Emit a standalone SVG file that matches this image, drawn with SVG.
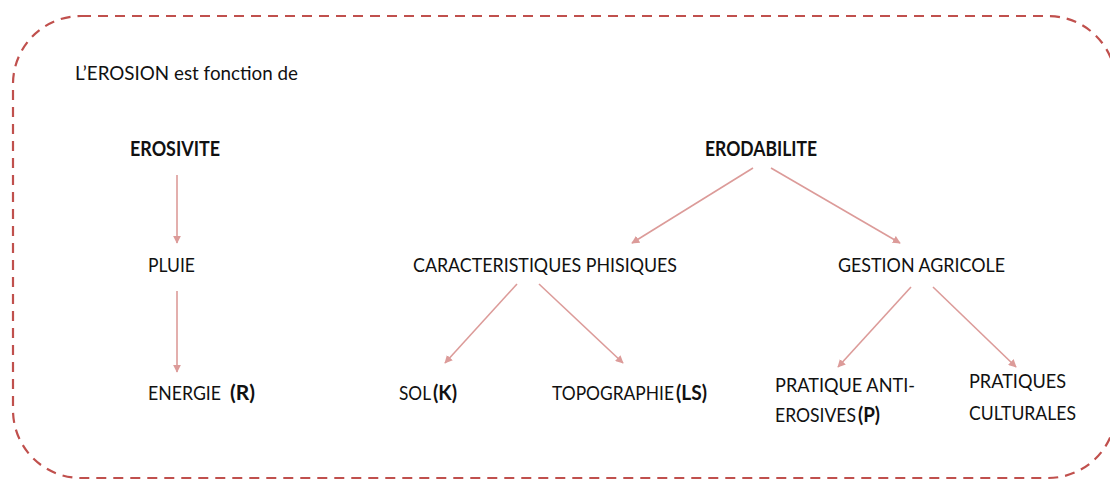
<svg xmlns="http://www.w3.org/2000/svg" width="1110" height="482" viewBox="0 0 1110 482">
  <defs>
    <marker id="arrow" viewBox="0 0 10 10" refX="9" refY="5" markerWidth="8" markerHeight="8" markerUnits="userSpaceOnUse" orient="auto">
      <path d="M0,0 L10,5 L0,10 Z" fill="#DC9B99"/>
    </marker>
    <style>
      .frame { fill: none; stroke: #C0504D; stroke-width: 2.2; stroke-dasharray: 10 7; }
      .link { stroke: #DC9B99; stroke-width: 1.6; fill: none; marker-end: url(#arrow); }
      text { font-family: Lato, "Liberation Sans", sans-serif; font-size: 20px; fill: #111; }
      .b { font-weight: bold; }
    </style>
  </defs>

  <rect class="frame" x="13" y="16" width="1103" height="462" rx="68" ry="68"/>

  <g id="title"><text x="75" y="80" textLength="223" lengthAdjust="spacingAndGlyphs">L’EROSION est fonction de</text></g>

  <g id="erosivite"><text class="b" x="130" y="156" textLength="90" lengthAdjust="spacingAndGlyphs">EROSIVITE</text></g>
  <g id="pluie"><text x="148" y="272" textLength="47" lengthAdjust="spacingAndGlyphs">PLUIE</text></g>
  <g id="energie">
    <text x="148" y="400" textLength="73" lengthAdjust="spacingAndGlyphs">ENERGIE</text>
    <text class="b" x="230" y="400" textLength="25" lengthAdjust="spacingAndGlyphs">(R)</text>
  </g>

  <g id="erodabilite"><text class="b" x="705" y="156" textLength="112" lengthAdjust="spacingAndGlyphs">ERODABILITE</text></g>
  <g id="caracteristiques"><text x="413" y="272" textLength="264" lengthAdjust="spacingAndGlyphs">CARACTERISTIQUES PHISIQUES</text></g>
  <g id="gestion"><text x="838" y="272" textLength="167" lengthAdjust="spacingAndGlyphs">GESTION AGRICOLE</text></g>
  <g id="sol">
    <text x="399" y="400" textLength="32" lengthAdjust="spacingAndGlyphs">SOL</text>
    <text class="b" x="433" y="400" textLength="24" lengthAdjust="spacingAndGlyphs">(K)</text>
  </g>
  <g id="topographie">
    <text x="552" y="400" textLength="122" lengthAdjust="spacingAndGlyphs">TOPOGRAPHIE</text>
    <text class="b" x="676" y="400" textLength="31" lengthAdjust="spacingAndGlyphs">(LS)</text>
  </g>
  <g id="anti-erosives">
    <text x="775" y="392" textLength="140" lengthAdjust="spacingAndGlyphs">PRATIQUE ANTI-</text>
    <text x="775" y="422" textLength="81" lengthAdjust="spacingAndGlyphs">EROSIVES</text>
    <text class="b" x="858" y="422" textLength="22" lengthAdjust="spacingAndGlyphs">(P)</text>
  </g>
  <g id="culturales">
    <text x="969" y="388" textLength="97" lengthAdjust="spacingAndGlyphs">PRATIQUES</text>
    <text x="969" y="420" textLength="107" lengthAdjust="spacingAndGlyphs">CULTURALES</text>
  </g>

  <g id="connectors">
    <line class="link" x1="177" y1="175" x2="177" y2="243"/>
    <line class="link" x1="177" y1="291" x2="177" y2="372"/>
    <line class="link" x1="753" y1="168" x2="632" y2="243"/>
    <line class="link" x1="771" y1="168" x2="900" y2="243"/>
    <line class="link" x1="517" y1="284" x2="445" y2="363"/>
    <line class="link" x1="539" y1="284" x2="623" y2="363"/>
    <line class="link" x1="911" y1="287" x2="838" y2="367"/>
    <line class="link" x1="933" y1="287" x2="1016" y2="367"/>
  </g>
</svg>
